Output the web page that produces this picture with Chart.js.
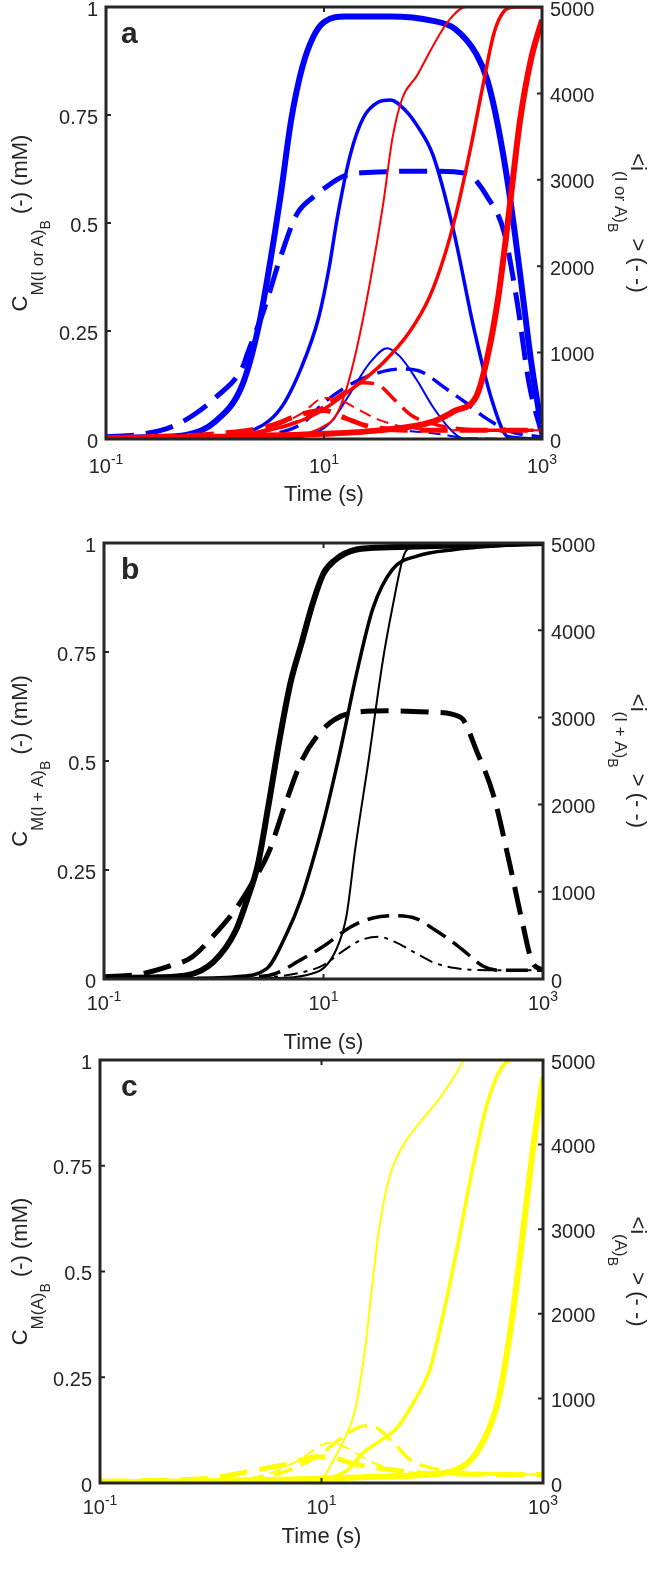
<!DOCTYPE html>
<html>
<head>
<meta charset="utf-8">
<script src="https://cdn.jsdelivr.net/npm/chart.js@4.4.0/dist/chart.umd.min.js"></script>
<style>
  body { margin: 0; background: #fff; }
  #wrap { position: relative; width: 657px; height: 1578px; }
  canvas { position: absolute; left: 0; }
</style>
</head>
<body>
<div id="wrap">
  <canvas id="chartA" width="657" height="525" style="top:0px"></canvas>
  <canvas id="chartB" width="657" height="530" style="top:525px"></canvas>
  <canvas id="chartC" width="657" height="523" style="top:1055px"></canvas>
</div>
<script>
// tick values / labels
const xTickVals = [0.1, 10, 1000];
const xTickExps = ['-1', '1', '3'];
const yLeftTicks = [0, 0.25, 0.5, 0.75, 1];
const yLeftLabels = ['0', '0.25', '0.5', '0.75', '1'];
const yRightTicks = [0, 1000, 2000, 3000, 4000, 5000];

// panel a : [time (s), C (mM)] on the left axis, [time, <i>] on the right axis
const aBlueThick = [[0.1,0.002],[0.316,0.005],[0.56,0.01],[1,0.04],[1.78,0.125],[2.51,0.26],[3.16,0.40],[3.98,0.56],[5.01,0.74],[6.31,0.86],[7.94,0.93],[10,0.965],[15.8,0.978],[39.8,0.978],[100,0.968],[158,0.95],[251,0.89],[316,0.83],[398,0.72],[501,0.57],[631,0.38],[794,0.18],[1000,0.02]];
const aBlueMed = [[0.1,0],[1,0.002],[2,0.015],[3.98,0.07],[6.31,0.17],[8.91,0.28],[11.2,0.40],[13.2,0.51],[17.4,0.657],[22.9,0.743],[31.6,0.78],[40.7,0.785],[56.2,0.76],[70.8,0.727],[100,0.657],[155,0.48],[240,0.25],[347,0.09],[490,0.005],[1000,0]];
const aBlueThin = [[0.1,0],[3.16,0],[6.31,0.005],[10,0.025],[12,0.044],[17.4,0.106],[26.3,0.176],[38,0.21],[50.1,0.19],[70.8,0.137],[100,0.074],[141,0.025],[186,0.002],[1000,0]];
const aBlueDashThick = [[0.1,25],[0.2,50],[0.4,140],[0.63,275],[1,475],[1.78,825],[2,1000],[2.82,1500],[3.98,2100],[5.62,2600],[7.94,2800],[10,2900],[15.8,3050],[31.6,3090],[100,3100],[200,3075],[316,2800],[447,2400],[589,1600],[759,650],[1000,50]];
const aBlueDashMed = [[0.1,0],[1,10],[3.16,50],[6.31,180],[10,420],[15.8,600],[25.1,725],[50.1,810],[79.4,775],[126,600],[200,420],[251,320],[316,230],[501,90],[1000,20]];
const aBlueDashThin = [[0.1,0],[3.16,15],[10,50],[31.6,100],[63.1,90],[126,50],[200,10],[1000,0]];
const aRedThin = [[0.1,0],[3.16,0.002],[6.31,0.01],[10,0.03],[12.6,0.05],[15.8,0.11],[20,0.21],[26.3,0.36],[34.7,0.54],[42.7,0.70],[52.5,0.79],[70.8,0.84],[100,0.91],[141,0.97],[200,1.0],[1000,1.0]];
const aRedMed = [[0.1,0],[1,0.005],[4.17,0.028],[8.71,0.06],[17.4,0.113],[34.7,0.176],[61.7,0.25],[93.3,0.33],[126,0.42],[166,0.53],[224,0.68],[288,0.82],[363,0.94],[447,0.99],[562,1.0],[1000,1.0]];
const aRedThick = [[0.1,0.002],[1,0.005],[10,0.012],[31.6,0.02],[100,0.04],[158,0.065],[251,0.10],[316,0.19],[398,0.33],[501,0.53],[631,0.74],[794,0.88],[1000,0.97]];
const aRedDashThick = [[0.1,15],[1,60],[3.16,150],[6.31,290],[10,330],[15.8,240],[25.1,150],[63.1,100],[251,100],[1000,100]];
const aRedDashMed = [[0.1,0],[1,25],[3.16,100],[6.31,225],[10,375],[15.8,550],[22.4,650],[31.6,625],[44.7,450],[63.1,275],[100,175],[158,125],[316,100],[1000,100]];
const aRedDashThin = [[0.1,0],[1,25],[3.16,125],[6.31,300],[10,475],[14.1,450],[20,350],[31.6,225],[63.1,125],[158,100],[1000,100]];

// panel b
const bThick = [[0.1,0.002],[0.316,0.004],[0.56,0.008],[1,0.04],[1.58,0.11],[2,0.18],[2.51,0.26],[3.16,0.40],[3.98,0.55],[5.01,0.68],[6.31,0.77],[7.94,0.86],[10,0.93],[12.6,0.96],[20,0.985],[39.8,0.99],[1000,1.0]];
const bMed = [[0.1,0],[1,0.002],[1.58,0.005],[3.02,0.023],[4.68,0.107],[6.17,0.18],[7.76,0.26],[10,0.36],[14.1,0.52],[20,0.70],[28.2,0.85],[42.7,0.94],[70.8,0.97],[158,0.985],[1000,1.0]];
const bThin = [[0.1,0],[3.16,0.002],[8.71,0.016],[13.2,0.07],[16.2,0.145],[19.5,0.3],[25.7,0.5],[34.7,0.73],[42.7,0.855],[53.7,0.97],[63.1,0.99],[1000,1.0]];
const bDashThick = [[0.1,25],[0.2,50],[0.4,150],[0.63,250],[1,500],[1.58,800],[2.24,1100],[3.16,1450],[4.47,2000],[6.31,2500],[8.91,2800],[12.6,2975],[20,3060],[39.8,3075],[100,3060],[178,3000],[251,2600],[355,2100],[501,1300],[661,600],[794,200],[1000,100]];
const bDashMed = [[0.1,0],[1,10],[3.16,40],[6.31,225],[10,375],[17.8,600],[28.2,700],[44.7,725],[70.8,690],[100,575],[141,450],[200,300],[282,150],[398,100],[1000,100]];
const bDashDot = [[0.1,0],[1,5],[3.16,20],[6.31,75],[10,160],[15.8,340],[22.4,450],[31.6,485],[44.7,425],[70.8,290],[100,190],[158,125],[316,100],[1000,100]];

// panel c
const cThin = [[0.1,0],[3.16,0.002],[7.94,0.005],[10,0.01],[12.6,0.05],[15.8,0.1],[20,0.17],[25.1,0.33],[28.2,0.45],[33.1,0.6],[40.7,0.72],[53.7,0.795],[75.9,0.85],[117,0.91],[158,0.96],[200,1.0],[1000,1.0]];
const cMed = [[0.1,0],[1,0.003],[10,0.01],[17,0.03],[23.4,0.07],[33.9,0.1],[47.9,0.13],[67.6,0.19],[95.5,0.27],[126,0.4],[166,0.55],[234,0.75],[316,0.9],[447,0.99],[562,1.0],[1000,1.0]];
const cThick = [[0.1,0.002],[1,0.004],[10,0.01],[31.6,0.015],[100,0.02],[158,0.03],[224,0.055],[316,0.12],[398,0.2],[501,0.35],[631,0.55],[794,0.77],[1000,0.96]];
const cDashThick = [[0.1,20],[0.316,30],[1,60],[2.51,150],[5.01,225],[8.91,310],[12.6,300],[20,225],[39.8,160],[100,110],[1000,100]];
const cDashMed = [[0.1,0],[1,20],[3.16,75],[6.31,200],[10,350],[15.8,550],[24,675],[31.6,650],[44.7,475],[63.1,275],[100,175],[200,125],[1000,100]];
const cDashThin = [[0.1,0],[1,20],[3.16,100],[6.31,275],[10,450],[12.6,475],[17.8,400],[28.2,250],[50.1,150],[100,110],[1000,100]];

const FONT = '"Liberation Sans", Arial, Helvetica, sans-serif';
const INK = '#262626';
const BLUE = 'rgb(0,0,255)';
const RED = 'rgb(255,0,0)';
const YELLOW = 'rgb(255,255,0)';

function line(points, color, width, axis, dash) {
    return {
        data: points.map(p => ({ x: p[0], y: p[1] })),
        borderColor: color,
        borderWidth: width,
        borderDash: dash || [],
        yAxisID: axis,
        pointRadius: 0,
        fill: false,
        cubicInterpolationMode: 'monotone'
    };
}

// draws a run of text pieces (sub/subscripts) rotated around (x, y)
function drawParts(ctx, parts, x, y, angle) {
    ctx.save();
    ctx.translate(x, y);
    ctx.rotate(angle);
    ctx.textAlign = 'left';
    ctx.textBaseline = 'alphabetic';
    let total = 0;
    parts.forEach(p => {
        ctx.font = p.size + 'px ' + FONT;
        p.w = ctx.measureText(p.text).width;
        total += p.w;
    });
    let cx = -total / 2;
    parts.forEach(p => {
        ctx.font = p.size + 'px ' + FONT;
        ctx.fillText(p.text, cx, p.shift);
        cx += p.w;
    });
    ctx.restore();
}

const axesPlugin = {
    id: 'matlabAxes',
    afterDatasetsDraw(chart, args, opts) {
        const ctx = chart.ctx;
        const area = chart.chartArea;
        const xs = chart.scales.x, yl = chart.scales.y, yr = chart.scales.y2;
        ctx.save();
        ctx.fillStyle = INK;
        ctx.strokeStyle = INK;

        // inner tick marks
        ctx.lineWidth = 2;
        ctx.beginPath();
        yLeftTicks.forEach(v => {
            const py = yl.getPixelForValue(v);
            ctx.moveTo(area.left, py); ctx.lineTo(area.left + 5, py);
        });
        yRightTicks.forEach(v => {
            const py = yr.getPixelForValue(v);
            ctx.moveTo(area.right, py); ctx.lineTo(area.right - 5, py);
        });
        xTickVals.forEach(v => {
            const px = xs.getPixelForValue(v);
            ctx.moveTo(px, area.bottom); ctx.lineTo(px, area.bottom - 5);
            ctx.moveTo(px, area.top); ctx.lineTo(px, area.top + 5);
        });
        ctx.stroke();

        // box
        ctx.lineWidth = 3;
        ctx.strokeRect(area.left, area.top, area.right - area.left, area.bottom - area.top);

        // y tick labels
        ctx.font = '20px ' + FONT;
        ctx.textBaseline = 'middle';
        ctx.textAlign = 'right';
        yLeftTicks.forEach((v, i) => {
            ctx.fillText(yLeftLabels[i], area.left - 8, yl.getPixelForValue(v) + 3);
        });
        ctx.textAlign = 'left';
        yRightTicks.forEach(v => {
            ctx.fillText(String(v), area.right + 8, yr.getPixelForValue(v) + 3);
        });

        // x tick labels 10^n
        ctx.textBaseline = 'alphabetic';
        const ly = area.bottom + opts.xLabelGap;
        xTickVals.forEach((v, i) => {
            ctx.font = '20px ' + FONT;
            const w1 = ctx.measureText('10').width;
            ctx.font = '14px ' + FONT;
            const w2 = ctx.measureText(xTickExps[i]).width;
            const x0 = xs.getPixelForValue(v) - (w1 + w2) / 2;
            ctx.font = '20px ' + FONT;
            ctx.fillText('10', x0, ly);
            ctx.font = '14px ' + FONT;
            ctx.fillText(xTickExps[i], x0 + w1, ly - 9);
        });

        // x title
        ctx.font = '22px ' + FONT;
        ctx.textAlign = 'center';
        ctx.fillText('Time (s)', (area.left + area.right) / 2, area.bottom + opts.xTitleGap);

        // panel letter
        ctx.font = 'bold 30px ' + FONT;
        ctx.textAlign = 'left';
        ctx.fillText(opts.letter, 121, area.top + 36);

        // axis titles with subscripts
        const midY = (area.top + area.bottom) / 2;
        drawParts(ctx, [
            { text: 'C', size: 22, shift: 0 },
            { text: 'M' + opts.species, size: 17, shift: 16 },
            { text: 'B', size: 14, shift: 23 },
            { text: ' (-) (mM)', size: 22, shift: 0 }
        ], 27, midY, -Math.PI / 2);
        drawParts(ctx, [
            { text: '<i', size: 22, shift: 0 },
            { text: opts.species, size: 17, shift: 16 },
            { text: 'B', size: 14, shift: 23 },
            { text: ' > (- -)', size: 22, shift: 0 }
        ], 631, midY, Math.PI / 2);
        ctx.restore();
    }
};

function makeChart(id, datasets, pad, opts) {
    return new Chart(document.getElementById(id), {
        type: 'line',
        data: { datasets: datasets },
        options: {
            responsive: false,
            animation: false,
            parsing: true,
            layout: { padding: pad },
            plugins: {
                legend: { display: false },
                tooltip: { enabled: false },
                matlabAxes: opts
            },
            scales: {
                x: { type: 'logarithmic', min: 0.1, max: 1000, display: false },
                y: { type: 'linear', min: 0, max: 1, display: false },
                y2: { type: 'linear', min: 0, max: 5000, display: false, position: 'right' }
            }
        },
        plugins: [axesPlugin]
    });
}

makeChart('chartA', [
    line(aRedThin, RED, 2, 'y'),
    line(aRedMed, RED, 3.5, 'y'),
    line(aRedThick, RED, 6, 'y'),
    line(aRedDashThin, RED, 2, 'y2', [12, 7]),
    line(aRedDashMed, RED, 3.5, 'y2', [20, 9]),
    line(aRedDashThick, RED, 5, 'y2', [28, 12]),
    line(aBlueThin, BLUE, 2, 'y'),
    line(aBlueMed, BLUE, 3.5, 'y'),
    line(aBlueThick, BLUE, 6, 'y'),
    line(aBlueDashThin, BLUE, 2, 'y2', [12, 7]),
    line(aBlueDashMed, BLUE, 3.5, 'y2', [20, 9]),
    line(aBlueDashThick, BLUE, 5, 'y2', [28, 12])
], { left: 106, right: 115, top: 7, bottom: 86 },
   { letter: 'a', species: '(I or A)', xLabelGap: 34, xTitleGap: 62 });

makeChart('chartB', [
    line(bThin, '#000', 2, 'y'),
    line(bMed, '#000', 3.5, 'y'),
    line(bThick, '#000', 6, 'y'),
    line(bDashDot, '#000', 2, 'y2', [14, 6, 4, 6]),
    line(bDashMed, '#000', 3.5, 'y2', [22, 9]),
    line(bDashThick, '#000', 5, 'y2', [28, 12])
], { left: 104, right: 114, top: 18, bottom: 76 },
   { letter: 'b', species: '(I + A)', xLabelGap: 31, xTitleGap: 70 });

makeChart('chartC', [
    line(cThin, YELLOW, 2, 'y'),
    line(cMed, YELLOW, 3.5, 'y'),
    line(cThick, YELLOW, 6, 'y'),
    line(cDashThin, YELLOW, 2, 'y2', [12, 7]),
    line(cDashMed, YELLOW, 3.5, 'y2', [20, 9]),
    line(cDashThick, YELLOW, 5, 'y2', [28, 12])
], { left: 100, right: 114, top: 5, bottom: 95 },
   { letter: 'c', species: '(A)', xLabelGap: 31, xTitleGap: 60 });
</script>
</body>
</html>
